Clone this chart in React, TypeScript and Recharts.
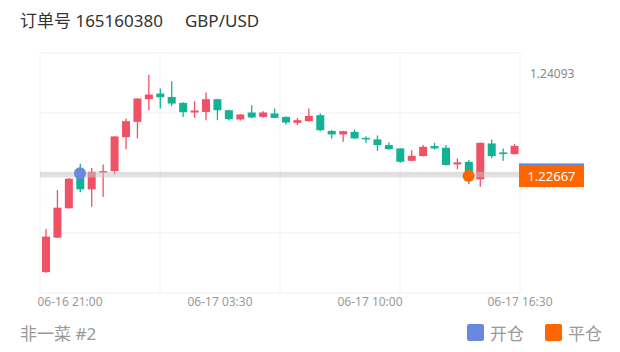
import { ComposedChart, Bar, XAxis, YAxis, CartesianGrid, ReferenceLine, ReferenceDot } from 'recharts';

// 30-minute candles, 06-16 20:00 .. 06-17 16:30
const TIMES = [
  '06-16 20:00', '06-16 20:30', '06-16 21:00', '06-16 21:30', '06-16 22:00', '06-16 22:30',
  '06-16 23:00', '06-16 23:30', '06-17 00:00', '06-17 00:30', '06-17 01:00', '06-17 01:30',
  '06-17 02:00', '06-17 02:30', '06-17 03:00', '06-17 03:30', '06-17 04:00', '06-17 04:30',
  '06-17 05:00', '06-17 05:30', '06-17 06:00', '06-17 06:30', '06-17 07:00', '06-17 07:30',
  '06-17 08:00', '06-17 08:30', '06-17 09:00', '06-17 09:30', '06-17 10:00', '06-17 10:30',
  '06-17 11:00', '06-17 11:30', '06-17 12:00', '06-17 12:30', '06-17 13:00', '06-17 13:30',
  '06-17 14:00', '06-17 14:30', '06-17 15:00', '06-17 15:30', '06-17 16:00', '06-17 16:30',
];
// same candles, minutes from 06-16 00:00
const MINUTES = [
  1200, 1230, 1260, 1290, 1320, 1350, 1380, 1410, 1440, 1470, 1500, 1530, 1560, 1590,
  1620, 1650, 1680, 1710, 1740, 1770, 1800, 1830, 1860, 1890, 1920, 1950, 1980, 2010,
  2040, 2070, 2100, 2130, 2160, 2190, 2220, 2250, 2280, 2310, 2340, 2370, 2400, 2430,
];

const OPEN = [
  1.21314, 1.218, 1.22213, 1.22667, 1.2248, 1.22719, 1.22737, 1.23215, 1.2343, 1.23749, 1.23829,
  1.23781, 1.23697, 1.23562, 1.2357, 1.23749, 1.23594, 1.23464, 1.23562, 1.235, 1.23548, 1.235,
  1.23416, 1.2344, 1.23524, 1.23303, 1.23253, 1.23289, 1.23205, 1.23183, 1.23103, 1.23056, 1.22882,
  1.22948, 1.23089, 1.23065, 1.22831, 1.22868, 1.22621, 1.23126, 1.23, 1.22976,
];
const HIGH = [
  1.21922, 1.2247, 1.22639, 1.2284, 1.22779, 1.22831, 1.23229, 1.23478, 1.23763, 1.24093, 1.23899,
  1.24002, 1.23707, 1.23721, 1.23843, 1.23755, 1.236, 1.23542, 1.23665, 1.23578, 1.23618, 1.2351,
  1.23486, 1.23618, 1.23552, 1.23313, 1.23306, 1.23323, 1.23229, 1.23239, 1.23141, 1.2306, 1.23032,
  1.23103, 1.23135, 1.23103, 1.22916, 1.22892, 1.2314, 1.23183, 1.23056, 1.23117,
];
const LOW = [
  1.21304, 1.21796, 1.2221, 1.22438, 1.22236, 1.22376, 1.22691, 1.23046, 1.23197, 1.23594, 1.23618,
  1.23655, 1.235, 1.23486, 1.23454, 1.23454, 1.2345, 1.2345, 1.23482, 1.23492, 1.23482, 1.23393,
  1.23383, 1.23433, 1.23299, 1.23197, 1.23149, 1.23194, 1.23135, 1.23022, 1.23039, 1.22854, 1.22875,
  1.22941, 1.23042, 1.22815, 1.22761, 1.22555, 1.22517, 1.22916, 1.22882, 1.22969,
];
const CLOSE = [
  1.21814, 1.22222, 1.22629, 1.2248, 1.22727, 1.22737, 1.23225, 1.2344, 1.23759, 1.23815, 1.23777,
  1.23688, 1.23566, 1.2359, 1.23749, 1.23594, 1.23468, 1.23534, 1.23492, 1.23562, 1.23486, 1.23421,
  1.23454, 1.23514, 1.23313, 1.23253, 1.23299, 1.23197, 1.23183, 1.23103, 1.23046, 1.22868, 1.22952,
  1.23079, 1.23056, 1.22822, 1.2286, 1.2272, 1.23135, 1.22948, 1.22976, 1.23093,
];

// order open / close
const OPEN_TIME = '06-16 21:30';
const OPEN_PRICE = 1.22705;
const CLOSE_TIME = '06-17 14:30';
const CLOSE_PRICE = 1.22667;

// axis labels (minutes from 06-16 00:00)
const TICK_LABELS = ['06-16 21:00', '06-17 03:30', '06-17 10:00', '06-17 16:30'];
const TICK_MINUTES = [1260, 1650, 2040, 2430];
const TIME_DOMAIN = [1182, 2430];
const PRICE_DOMAIN = [1.2102, 1.244];

const UP = '#ef5166';
const DOWN = '#12b295';
const BLUE = '#6a88e0';
const ORANGE = '#ff6600';

const data = TIMES.map((t, i) => ({
  t,
  m: MINUTES[i],
  open: OPEN[i],
  high: HIGH[i],
  low: LOW[i],
  close: CLOSE[i],
  range: [LOW[i], HIGH[i]],
}));

const maxHigh = Math.max(...HIGH);

const Candle = (props: any) => {
  const { x, y, width, height, payload } = props;
  const top = Math.min(y, y + height);
  const h = Math.abs(height);
  const { open, close, high, low } = payload;
  const color = close >= open ? UP : DOWN;
  const k = h / (high - low || 1);
  const py = (v: number) => top + (high - v) * k;
  const cx = x + width / 2;
  const bTop = py(Math.max(open, close));
  const bBot = py(Math.min(open, close));
  return (
    <g>
      <line x1={cx} x2={cx} y1={top} y2={top + h} stroke={color} strokeWidth={1.3} />
      <rect x={x} y={bTop} width={width} height={Math.max(1.5, bBot - bTop)} fill={color} />
    </g>
  );
};

const PriceTag = (props: any) => {
  const { viewBox, fill, text, h = 22 } = props;
  if (!viewBox) return null;
  const x = viewBox.x + viewBox.width;
  const y = viewBox.y;
  return (
    <g>
      <rect x={x - 1} y={y - h / 2} width={65} height={h} fill={fill} />
      {text ? (
        <text x={x + 31.5} y={y + 5} textAnchor="middle" fill="#fff" fontSize={13}>
          {text}
        </text>
      ) : null}
    </g>
  );
};

const split4 = (start: number, size: number) => [0, 1, 2, 3, 4].map((i) => start + (size * i) / 4);

export default function App() {
  const font = "'Noto Sans', 'Noto Sans CJK SC', sans-serif";
  return (
    <div style={{ position: 'absolute', left: 0, top: 0, width: 620, height: 352, background: '#fff', fontFamily: font }}>
      <div style={{ position: 'absolute', left: 20, top: 7, fontSize: 17, color: '#333', whiteSpace: 'nowrap' }}>
        订单号 165160380<span style={{ marginLeft: 22 }}>GBP/USD</span>
      </div>

      <div style={{ position: 'absolute', left: 0, top: 0 }}>
        <ComposedChart
          width={620}
          height={352}
          data={data}
          margin={{ top: 53, right: 100, bottom: 39, left: 40 }}
          style={{ fontFamily: font }}
        >
          <CartesianGrid
            stroke="#f0f0f0"
            verticalCoordinatesGenerator={({ offset }: any) => split4(offset.left, offset.width)}
            horizontalCoordinatesGenerator={({ offset }: any) => split4(offset.top, offset.height)}
          />
          <XAxis
            xAxisId="time"
            dataKey="m"
            type="number"
            domain={TIME_DOMAIN}
            ticks={TICK_MINUTES}
            tickFormatter={(v: number) => TICK_LABELS[TICK_MINUTES.indexOf(v)]}
            axisLine={false}
            tickLine={false}
            tickSize={0}
            tickMargin={4}
            height={20}
            interval={0}
            tick={{ fontSize: 12, fill: '#999' }}
            allowDataOverflow
          />
          <XAxis xAxisId="cat" dataKey="t" type="category" hide height={0} />
          <YAxis yAxisId="p" orientation="right" domain={PRICE_DOMAIN} hide allowDataOverflow />
          <Bar
            xAxisId="cat"
            yAxisId="p"
            dataKey="range"
            barSize={8}
            shape={<Candle />}
            isAnimationActive={false}
          />
          <ReferenceLine
            xAxisId="cat"
            yAxisId="p"
            y={maxHigh}
            stroke="none"
            label={{ value: maxHigh.toFixed(5), position: 'right', offset: 10, fill: '#888', fontSize: 12, dy: -1 }}
          />
          <ReferenceLine
            xAxisId="cat"
            yAxisId="p"
            y={OPEN_PRICE}
            stroke="rgba(200,200,200,0.5)"
            strokeWidth={3}
            label={<PriceTag fill={BLUE} h={20} />}
          />
          <ReferenceLine
            xAxisId="cat"
            yAxisId="p"
            y={CLOSE_PRICE}
            stroke="rgba(200,200,200,0.5)"
            strokeWidth={3}
            label={<PriceTag fill={ORANGE} text={CLOSE_PRICE.toFixed(5)} />}
          />
          <ReferenceDot xAxisId="cat" yAxisId="p" x={OPEN_TIME} y={OPEN_PRICE} r={6} fill={BLUE} stroke="none" />
          <ReferenceDot xAxisId="cat" yAxisId="p" x={CLOSE_TIME} y={CLOSE_PRICE} r={6} fill={ORANGE} stroke="none" />
        </ComposedChart>
      </div>

      <div style={{ position: 'absolute', left: 20, top: 320, fontSize: 17, color: '#999', whiteSpace: 'nowrap' }}>
        非一菜 #2
      </div>
      <div style={{ position: 'absolute', left: 467, top: 320, width: 145, display: 'flex', alignItems: 'center', fontSize: 17, color: '#999', whiteSpace: 'nowrap' }}>
        <span style={{ width: 17, height: 17, borderRadius: 2, background: BLUE, marginRight: 6 }} />
        开仓
        <span style={{ width: 17, height: 17, borderRadius: 2, background: ORANGE, marginLeft: 21, marginRight: 6 }} />
        平仓
      </div>
    </div>
  );
}
